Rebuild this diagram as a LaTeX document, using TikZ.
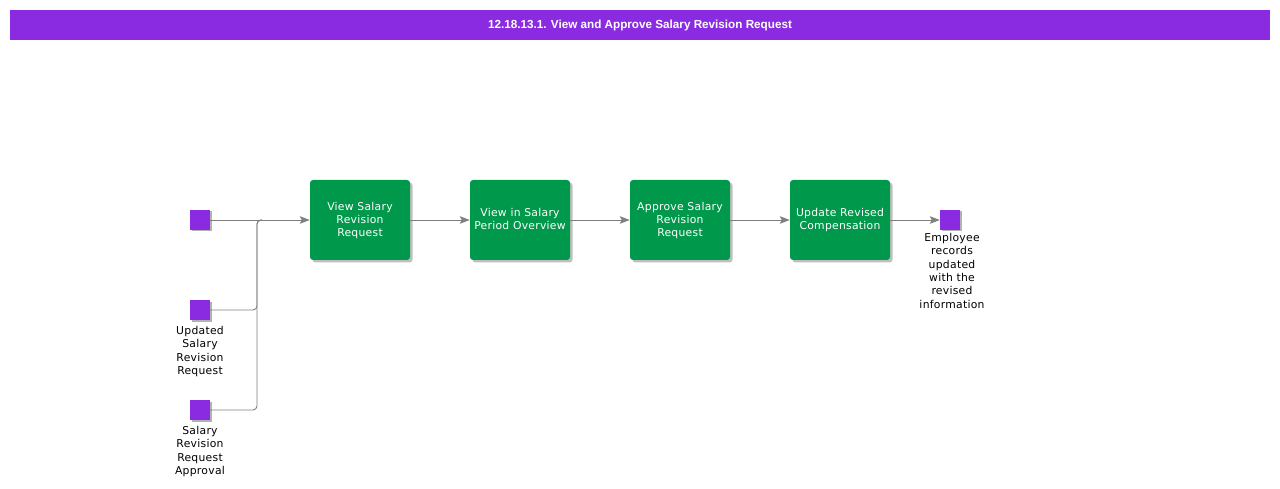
\documentclass[tikz,border=0pt]{standalone}
\usepackage{fontspec}
\setmainfont[LetterSpace=2.5]{DejaVu Sans}
\newfontfamily\titlefont{Liberation Sans}
\usetikzlibrary{arrows.meta, positioning, shadows}
\definecolor{bpmnviolet}{HTML}{8A2BE2}
\definecolor{taskgreen}{HTML}{00984A}
\definecolor{flowgray}{HTML}{7F7F7F}

\begin{document}
\begin{tikzpicture}[x=1pt, y=-1pt, node distance=160pt,
  task node/.style={rectangle, rounded corners=3pt, fill=taskgreen, text=white, minimum width=100pt, minimum height=80pt, inner sep=1pt, align=center, font=\fontsize{10.8}{13}\selectfont, drop shadow={shadow xshift=2.5pt, shadow yshift=-2.5pt, fill=black, opacity=.25}},
  event node/.style={rectangle, fill=bpmnviolet, minimum size=20pt, inner sep=0pt, drop shadow={shadow xshift=1.5pt, shadow yshift=-1.5pt, fill=black, opacity=.3}},
  info label/.style={align=center, inner sep=0pt, font=\fontsize{10.8}{13.3}\selectfont},
  flow/.style={draw=flowgray, line width=.9pt, -{Stealth[length=10pt, width=7.5pt, inset=2pt]}},
  merge/.style={draw=flowgray, line width=.9pt, rounded corners=4pt}]
\useasboundingbox (0,0) rectangle (1280,489);
% header
\node[fill=bpmnviolet, text=white, minimum width=1260pt, minimum height=30pt, font=\titlefont\bfseries\fontsize{11.7}{14}\selectfont] (title) at (640,25) {12.18.13.1. View and Approve Salary Revision Request};
% tasks
\node[task node, text depth=1.5pt] (view) at (360,220) {View Salary\\Revision\\Request};
\foreach \s/\t/\txt in {overview/view/{View in Salary\\Period Overview}, approve/overview/{Approve Salary\\Revision\\Request}, update/approve/{Update Revised\\Compensation}}{
    \node[task node, text depth=1.5pt] (\s) [right of = \t] {\txt};}
% events
\node[event node] (start) at (200,220) {};
\node[event node] (updated) at (200,310) {};
\node[event node] (approval) at (200,410) {};
\node[event node] (end) [right of = update, node distance=110pt] {};
\node[info label, below=6pt of updated] (updated text) {Updated\\Salary\\Revision\\Request};
\node[info label, below=6pt of approval] (approval text) {Salary\\Revision\\Request\\Approval};
\node[info label, below=3pt of end, xshift=2pt] (end text) {Employee\\records\\updated\\with the\\revised\\information};
% connectors
\foreach \s/\t in {start/view, view/overview, overview/approve, approve/update, update/end}{
    \draw[flow] (\s) -- (\t);}
\coordinate (join) at (257,220);
\coordinate (join out) at (262,220);
\foreach \s in {updated, approval}{
    \draw[merge] (\s) -| (join) -- (join out);}
\end{tikzpicture}
\end{document}
